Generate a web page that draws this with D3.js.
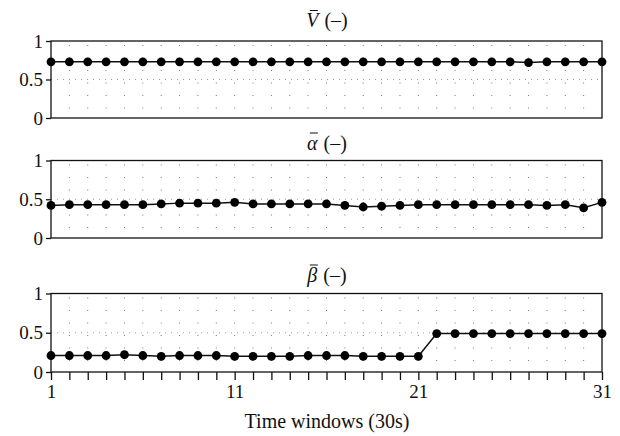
<!DOCTYPE html>
<html>
<head>
<meta charset="utf-8">
<script src="https://cdn.jsdelivr.net/npm/d3@7"></script>
<style>
  html, body { margin: 0; padding: 0; background: #fff; }
  svg { display: block; }
  svg text { font-family: "Liberation Serif", "DejaVu Serif", serif; fill: #111; }
</style>
</head>
<body>
<svg id="chart" width="620" height="436"></svg>
<script>
// Time window index (30 s windows)
const windows = d3.range(1, 32);

// Mean values per time window
const vBar = [0.73, 0.73, 0.73, 0.73, 0.73, 0.73, 0.73, 0.73, 0.73, 0.73,
              0.73, 0.73, 0.73, 0.73, 0.73, 0.73, 0.73, 0.73, 0.73, 0.73,
              0.73, 0.73, 0.73, 0.73, 0.73, 0.73, 0.72, 0.73, 0.73, 0.73, 0.73];
const alphaBar = [0.42, 0.43, 0.43, 0.43, 0.43, 0.43, 0.44, 0.45, 0.45, 0.45,
                  0.46, 0.44, 0.44, 0.44, 0.44, 0.44, 0.42, 0.40, 0.41, 0.42,
                  0.43, 0.43, 0.43, 0.43, 0.43, 0.43, 0.43, 0.42, 0.43, 0.39, 0.46];
const betaBar = [0.21, 0.21, 0.21, 0.21, 0.22, 0.21, 0.20, 0.21, 0.21, 0.21,
                 0.20, 0.20, 0.20, 0.20, 0.21, 0.21, 0.21, 0.20, 0.20, 0.20, 0.20,
                 0.49, 0.49, 0.49, 0.49, 0.49, 0.49, 0.49, 0.49, 0.49, 0.49];

const yTicks = [0, 0.5, 1];
const yTickLabels = ["0", "0.5", "1"];
const xTickLabels = [1, 11, 21, 31];

const panels = [
  { sym: "V", values: vBar, top: 41, bottom: 118, titleY: 27 },
  { sym: "\u03B1", values: alphaBar, top: 160.5, bottom: 238, titleY: 150 },
  { sym: "\u03B2", values: betaBar, top: 293.5, bottom: 372, titleY: 282 }
];

const FONT = "'Liberation Serif', 'DejaVu Serif', serif";
const svg = d3.select("#chart");
const x = d3.scaleLinear().domain([1, 31]).range([51, 602]);

panels.forEach((p, i) => {
  const y = d3.scaleLinear().domain([0, 1]).range([p.bottom, p.top]);
  const g = svg.append("g");

  // vertical dotted grid
  g.selectAll(".vgrid").data(windows.slice(1, -1)).join("line")
    .attr("x1", d => x(d)).attr("x2", d => x(d))
    .attr("y1", p.top + 4).attr("y2", p.bottom)
    .attr("stroke", "#666").attr("stroke-width", 0.9)
    .attr("stroke-dasharray", "1,11.5");

  // horizontal dotted grid at 0.5
  g.append("line")
    .attr("x1", x(1)).attr("x2", x(31))
    .attr("y1", y(0.5)).attr("y2", y(0.5))
    .attr("stroke", "#888").attr("stroke-width", 0.8)
    .attr("stroke-dasharray", "1,5");

  // frame
  g.append("rect")
    .attr("x", x(1)).attr("y", p.top)
    .attr("width", x(31) - x(1)).attr("height", p.bottom - p.top)
    .attr("fill", "none").attr("stroke", "#111").attr("stroke-width", 1.3);

  // y axis
  const yAxis = d3.axisLeft(y).tickValues(yTicks)
    .tickFormat((d, k) => yTickLabels[k]).tickSize(5).tickPadding(3);
  const ya = g.append("g").attr("transform", `translate(${x(1)},0)`).call(yAxis);
  ya.attr("font-family", null).attr("font-size", null);
  ya.select(".domain").remove();
  ya.selectAll("line").attr("stroke", "#111").attr("stroke-width", 1.3);
  ya.selectAll("text").style("font-family", FONT).style("font-size", "19px");

  // x axis on the bottom panel only
  if (i === panels.length - 1) {
    const xAxis = d3.axisBottom(x).tickValues(windows)
      .tickFormat(d => xTickLabels.includes(d) ? d : "").tickSize(8).tickPadding(5);
    const xa = g.append("g").attr("transform", `translate(0,${p.bottom})`).call(xAxis);
    xa.attr("font-family", null).attr("font-size", null);
    xa.select(".domain").remove();
    xa.selectAll("line").attr("stroke", "#111").attr("stroke-width", 1.3);
    xa.selectAll("text").style("font-family", FONT).style("font-size", "19px");
  }

  // series line
  const line = d3.line().x((d, k) => x(windows[k])).y(d => y(d));
  g.append("path").datum(p.values)
    .attr("d", line).attr("fill", "none")
    .attr("stroke", "#111").attr("stroke-width", 1.5);

  // markers
  g.selectAll(".pt").data(p.values).join("circle")
    .attr("cx", (d, k) => x(windows[k])).attr("cy", d => y(d))
    .attr("r", 4.4).attr("fill", "#000");

  // title: italic symbol with an overbar, then the unit
  const tg = g.append("g");
  const sym = tg.append("text").attr("y", p.titleY)
    .style("font-family", FONT).style("font-size", "20px").style("font-style", "italic")
    .text(p.sym);
  const unit = tg.append("text").attr("y", p.titleY)
    .style("font-family", FONT).style("font-size", "20px")
    .text("(\u2013)");
  const gap = 6;
  const symW = sym.node().getComputedTextLength();
  const unitW = unit.node().getComputedTextLength();
  const x0 = 327 - (symW + gap + unitW) / 2;
  sym.attr("x", x0);
  unit.attr("x", x0 + symW + gap);
  const barY = p.titleY - (p.sym === "V" ? 16.5 : 17);
  const bx = x0 + symW * 0.5 + 1.5;
  tg.append("line")
    .attr("x1", bx - 4).attr("x2", bx + 4)
    .attr("y1", barY).attr("y2", barY)
    .attr("stroke", "#111").attr("stroke-width", 1);
});

// x axis title
svg.append("text")
  .attr("x", 327).attr("y", 428)
  .attr("text-anchor", "middle")
  .style("font-family", FONT).style("font-size", "20px")
  .text("Time windows (30s)");
</script>
</body>
</html>
